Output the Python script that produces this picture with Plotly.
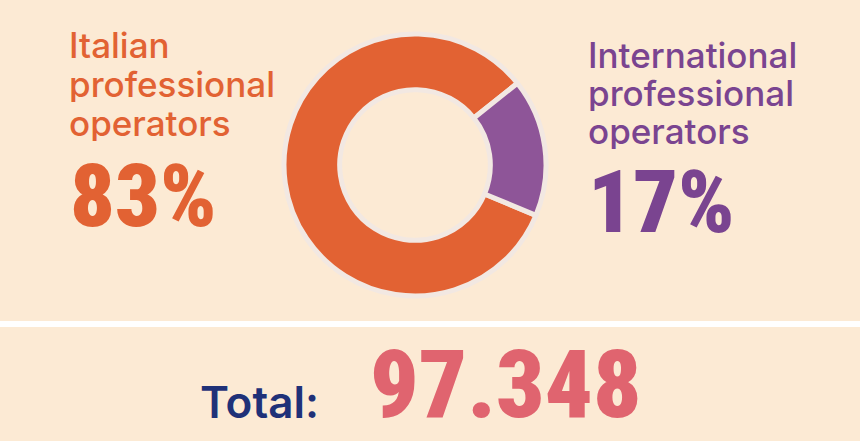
import plotly.graph_objects as go

W, H = 860, 441
BG = "#FCEAD4"

labels = ["Italian professional operators", "International professional operators"]
values = [83, 17]
colors = ["#E26233", "#8E5598"]
pct_labels = ["83%", "17%"]
total_label = "Total:"
total_value = "97.348"

cx, cy, r = 415, 165, 131

fig = go.Figure()
fig.add_trace(go.Pie(
    labels=labels, values=values, sort=False, direction="clockwise",
    rotation=112.6, hole=0.575, textinfo="none", hoverinfo="label+percent",
    marker=dict(colors=colors, line=dict(color="#F2E8E2", width=5)),
    domain=dict(x=[(cx - r) / W, (cx + r) / W], y=[1 - (cy + r) / H, 1 - (cy - r) / H]),
    showlegend=False,
))

def px(x):
    return x / W

def py(y):
    return 1 - y / H

LABEL_FONT = "Inter, Roboto, sans-serif"
BIG_FONT = "Roboto Condensed, DejaVu Sans Condensed, sans-serif"

ann = []
def add(text, x, y, size, color, family, weight=500, box_h=None):
    a = dict(text=text, x=px(x), y=py(y), xref="paper", yref="paper",
             xanchor="left", yanchor="middle", showarrow=False, valign="middle",
             font=dict(size=size, color=color, family=family, weight=weight))
    if box_h:
        a["height"] = box_h
    ann.append(a)

left_lines = ["Italian", "professional", "operators"]
right_lines = ["International", "professional", "operators"]
for i, t in enumerate(left_lines):
    add(t, 67, 45 + 39 * i, 35, "#E26233", LABEL_FONT, box_h=36)
for i, t in enumerate(right_lines):
    add(t, 586, 55 + 38 * i, 35, "#7A4490", LABEL_FONT, box_h=36)
add(pct_labels[0], 68, 195, 88, "#E26233", BIG_FONT, 900, box_h=70)
add(pct_labels[1], 586, 201, 88, "#7A4490", BIG_FONT, 900, box_h=70)
add(total_label, 198, 402, 44, "#1F3178", LABEL_FONT, 600, box_h=44)
add(total_value, 368, 384, 95, "#E0646F", BIG_FONT, 900, box_h=76)

fig.update_layout(
    width=W, height=H, margin=dict(l=0, r=0, t=0, b=0),
    paper_bgcolor=BG, plot_bgcolor=BG, annotations=ann,
    shapes=[dict(type="rect", xref="paper", yref="paper", x0=0, x1=1,
                 y0=py(327), y1=py(321), fillcolor="white", line=dict(width=0))],
)

fig.write_html("out.html", config={"displayModeBar": False},
               post_script="document.body.style.margin='0';document.body.style.background='%s';" % BG)
